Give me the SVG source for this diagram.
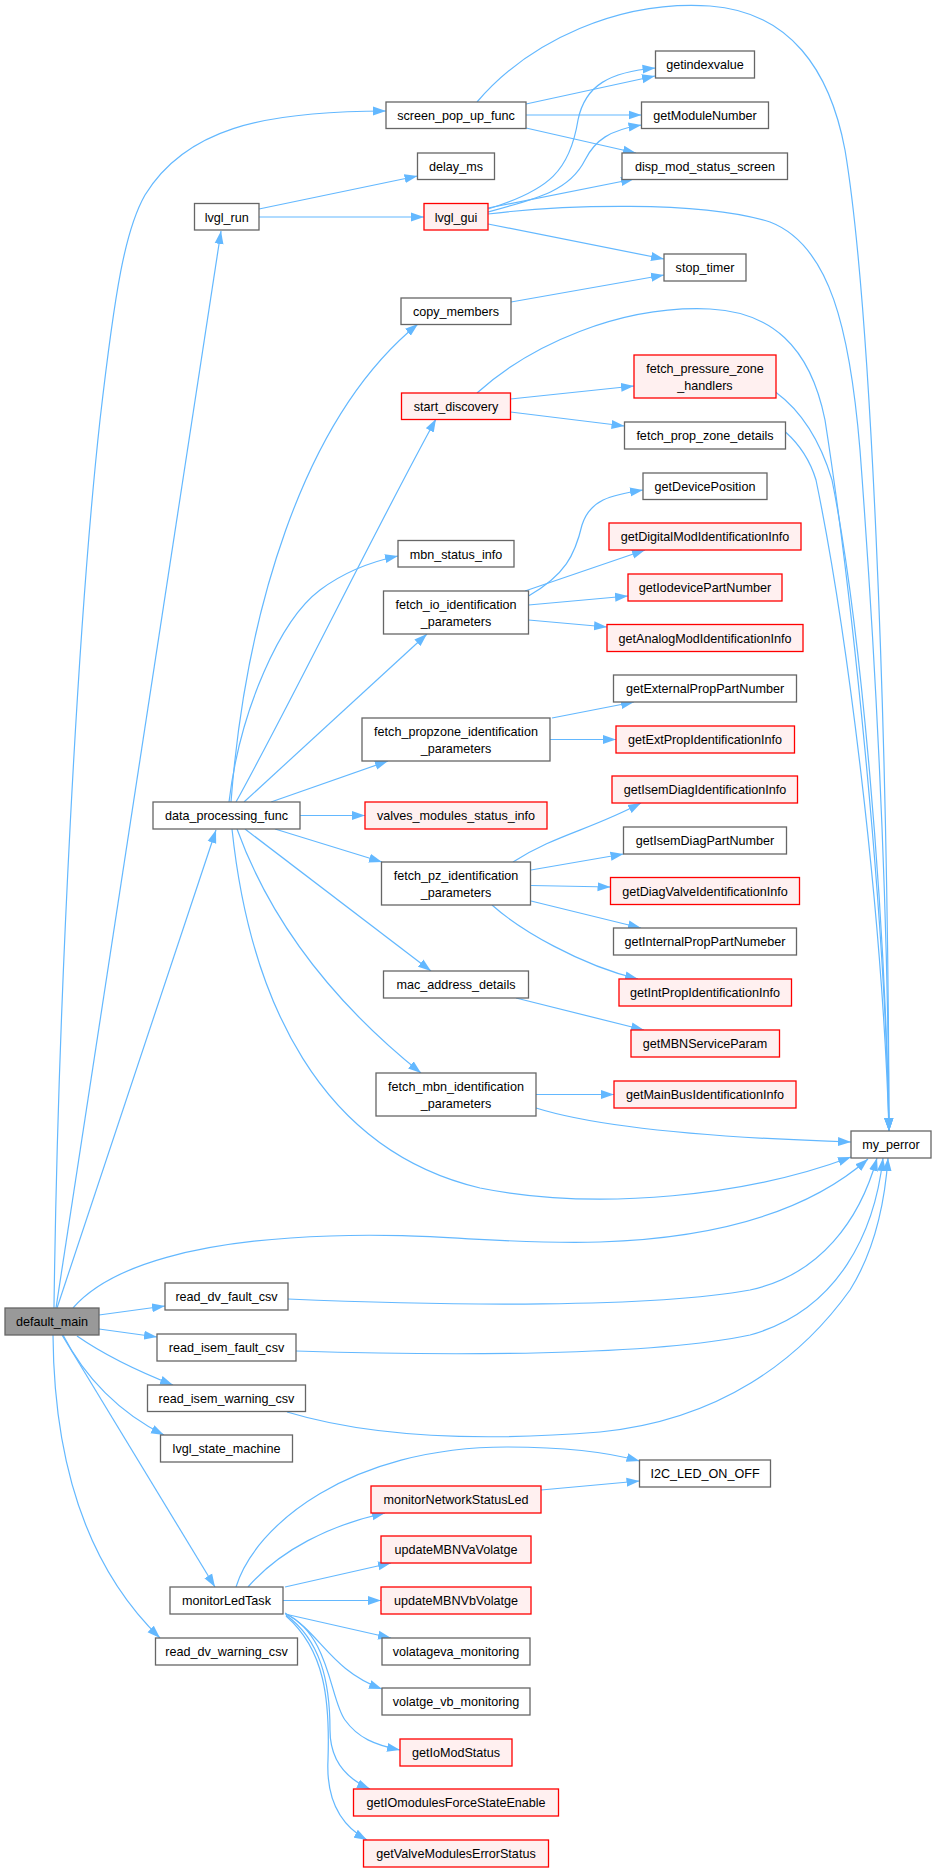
<svg xmlns="http://www.w3.org/2000/svg" width="936" height="1873" viewBox="0 0 936 1873">
<style>
.e{fill:none;stroke:#63b8ff;stroke-width:1.2;marker-end:url(#a)}
.n rect{fill:#ffffff;stroke:#666666;stroke-width:1.3}
.r rect{fill:#fff0f0;stroke:#ff0000;stroke-width:1.3}
.g rect{fill:#999999;stroke:#666666;stroke-width:1.3}
text{font-family:"Liberation Sans",Arial,sans-serif;font-size:12.6px;text-anchor:middle;fill:#000000}
</style>
<defs>
<marker id="a" markerWidth="13" markerHeight="10" refX="13" refY="5" orient="auto" markerUnits="userSpaceOnUse"><path d="M0,0.5 L13,5 L0,9.5 z" fill="#63b8ff"/></marker>
</defs>
<rect width="936" height="1873" fill="#ffffff"/>
<g id="edges">
<path class="e" d="M54,1308 C58,1000 78,620 100,420 C115,290 125,230 145,195 C185,130 260,111 386,111"/>
<path class="e" d="M56,1308 L221,231"/>
<path class="e" d="M57,1308 L216,830"/>
<path class="e" d="M73,1308 C110,1265 200,1240 330,1236 C430,1232 500,1245 600,1242 C720,1238 810,1210 868,1159"/>
<path class="e" d="M99,1315 L165,1306"/>
<path class="e" d="M99,1329 L157,1337"/>
<path class="e" d="M77,1336 C100,1352 135,1370 173,1385"/>
<path class="e" d="M63,1335 C85,1378 120,1413 164,1435"/>
<path class="e" d="M62,1335 L215,1587"/>
<path class="e" d="M53,1335 C54,1470 90,1570 160,1638"/>
<path class="e" d="M231,802 C245,620 300,420 418,324"/>
<path class="e" d="M236,802 C295,695 375,530 436,419"/>
<path class="e" d="M229,802 C240,710 280,620 320,590 C340,575 365,563 398,556"/>
<path class="e" d="M244,802 L427,634"/>
<path class="e" d="M271,802 L388,761"/>
<path class="e" d="M299,815.5 L365,815.5"/>
<path class="e" d="M275,829 L382,862"/>
<path class="e" d="M245,829 L431,971"/>
<path class="e" d="M237,829 C270,920 330,1000 421,1073"/>
<path class="e" d="M232,829 C250,1000 320,1150 480,1188 C600,1212 750,1195 851,1157"/>
<path class="e" d="M536,1108 C600,1128 720,1138 851,1142"/>
<path class="e" d="M536,1094.5 L614,1094.5"/>
<path class="e" d="M477,102 C530,40 620,0 710,6 C790,12 830,70 845,150 C870,300 888,700 889,1131"/>
<path class="e" d="M526,104 L655,76"/>
<path class="e" d="M526,115 L641.5,115"/>
<path class="e" d="M526,128 L636,153"/>
<path class="e" d="M259,209 L417.5,176"/>
<path class="e" d="M259,217 L424,217"/>
<path class="e" d="M488,209 C550,190 570,170 578,120 C585,85 610,72 655.5,68"/>
<path class="e" d="M488,212 C540,198 570,190 585,160 C595,140 610,130 641.5,125"/>
<path class="e" d="M488,208 L634,179"/>
<path class="e" d="M488,224 L664,259"/>
<path class="e" d="M488,214 C560,205 700,200 770,222 C830,245 850,330 860,450 C875,650 888,900 889,1131"/>
<path class="e" d="M511,302 L664,275"/>
<path class="e" d="M477,393 C530,345 620,305 710,309 C770,312 810,345 825,420 C850,580 885,900 889,1131"/>
<path class="e" d="M510.5,399 L634,386"/>
<path class="e" d="M510.5,412 L624.5,426"/>
<path class="e" d="M775.5,392 C800,410 820,440 832,480 C860,620 885,900 889,1131"/>
<path class="e" d="M785.5,432 C800,445 810,460 816,480 C845,620 882,900 889,1131"/>
<path class="e" d="M528.5,596 C565,575 575,555 582,525 C590,500 610,495 643,490"/>
<path class="e" d="M525,591 L645,550"/>
<path class="e" d="M528.5,605 L628,596"/>
<path class="e" d="M528.5,620 L607,627"/>
<path class="e" d="M552,718 L634,702"/>
<path class="e" d="M550,739.5 L616,739.5"/>
<path class="e" d="M513,862 C555,835 590,830 641,803"/>
<path class="e" d="M531,870 L623.5,854"/>
<path class="e" d="M531,885.5 L610.5,887"/>
<path class="e" d="M531,901 L641,928"/>
<path class="e" d="M492,905 C520,930 580,965 638,979"/>
<path class="e" d="M516,998 L644,1030"/>
<path class="e" d="M236,1587 C255,1525 350,1447 507,1447 C550,1447 600,1450 639.5,1461"/>
<path class="e" d="M248,1587 C280,1550 330,1525 385,1513"/>
<path class="e" d="M285,1587 L391,1563"/>
<path class="e" d="M282.5,1600.5 L381,1600.5"/>
<path class="e" d="M285,1614 L391,1638"/>
<path class="e" d="M285,1613 C320,1632 330,1670 382,1689"/>
<path class="e" d="M286,1614 C330,1635 330,1700 345,1720 C358,1738 375,1745 400,1750"/>
<path class="e" d="M286,1615 C320,1640 330,1680 330,1730 C330,1760 345,1778 370,1789"/>
<path class="e" d="M286,1616 C325,1650 330,1700 328,1760 C326,1800 340,1825 367,1840"/>
<path class="e" d="M541,1490 L639.5,1481"/>
<path class="e" d="M288,1299 C450,1306 650,1308 750,1290 C820,1275 860,1220 877,1158"/>
<path class="e" d="M296,1351 C450,1356 650,1356 750,1335 C840,1310 875,1230 883,1158"/>
<path class="e" d="M287,1412 C380,1440 500,1440 600,1432 C720,1420 800,1360 850,1290 C875,1250 885,1200 888,1158"/>
</g>
<g id="default_main" class="g"><rect x="5" y="1308" width="94" height="27"/><text x="52" y="1326">default_main</text></g>
<g id="screen_pop_up_func" class="n"><rect x="386" y="102" width="140" height="26.5"/><text x="456" y="120">screen_pop_up_func</text></g>
<g id="delay_ms" class="n"><rect x="417.5" y="153" width="77" height="26.5"/><text x="456" y="171">delay_ms</text></g>
<g id="lvgl_gui" class="r"><rect x="424" y="203.5" width="64" height="26.5"/><text x="456" y="221.5">lvgl_gui</text></g>
<g id="copy_members" class="n"><rect x="401" y="298" width="110" height="26.5"/><text x="456" y="316">copy_members</text></g>
<g id="start_discovery" class="r"><rect x="401.5" y="393" width="109" height="26.5"/><text x="456" y="411">start_discovery</text></g>
<g id="mbn_status_info" class="n"><rect x="398" y="540.5" width="116" height="26.5"/><text x="456" y="558.5">mbn_status_info</text></g>
<g id="fetch_io_identification_parameters" class="n"><rect x="383.5" y="591" width="145" height="43"/><text x="456" y="609">fetch_io_identification</text><text x="456" y="625.5">_parameters</text></g>
<g id="fetch_propzone_identification_parameters" class="n"><rect x="362" y="718" width="188" height="43"/><text x="456" y="736">fetch_propzone_identification</text><text x="456" y="752.5">_parameters</text></g>
<g id="valves_modules_status_info" class="r"><rect x="365" y="802" width="182" height="27"/><text x="456" y="820">valves_modules_status_info</text></g>
<g id="fetch_pz_identification_parameters" class="n"><rect x="381.5" y="862" width="149" height="43"/><text x="456" y="880">fetch_pz_identification</text><text x="456" y="896.5">_parameters</text></g>
<g id="mac_address_details" class="n"><rect x="383.5" y="971" width="145" height="27"/><text x="456" y="989">mac_address_details</text></g>
<g id="fetch_mbn_identification_parameters" class="n"><rect x="376" y="1073" width="160" height="43"/><text x="456" y="1091">fetch_mbn_identification</text><text x="456" y="1107.5">_parameters</text></g>
<g id="monitorNetworkStatusLed" class="r"><rect x="371" y="1486" width="170" height="27"/><text x="456" y="1504">monitorNetworkStatusLed</text></g>
<g id="updateMBNVaVolatge" class="r"><rect x="381" y="1536" width="150" height="27"/><text x="456" y="1554">updateMBNVaVolatge</text></g>
<g id="updateMBNVbVolatge" class="r"><rect x="381" y="1587" width="150" height="27"/><text x="456" y="1605">updateMBNVbVolatge</text></g>
<g id="volatageva_monitoring" class="n"><rect x="382" y="1638" width="148" height="27"/><text x="456" y="1656">volatageva_monitoring</text></g>
<g id="volatge_vb_monitoring" class="n"><rect x="382" y="1688" width="148" height="27"/><text x="456" y="1706">volatge_vb_monitoring</text></g>
<g id="getIoModStatus" class="r"><rect x="400" y="1739" width="112" height="27"/><text x="456" y="1757">getIoModStatus</text></g>
<g id="getIOmodulesForceStateEnable" class="r"><rect x="353.5" y="1789" width="205" height="27"/><text x="456" y="1807">getIOmodulesForceStateEnable</text></g>
<g id="getValveModulesErrorStatus" class="r"><rect x="363.5" y="1840" width="185" height="27"/><text x="456" y="1858">getValveModulesErrorStatus</text></g>
<g id="lvgl_run" class="n"><rect x="194.5" y="203.5" width="64.5" height="26.5"/><text x="226.7" y="221.5">lvgl_run</text></g>
<g id="data_processing_func" class="n"><rect x="153" y="802" width="147" height="27"/><text x="226.5" y="820">data_processing_func</text></g>
<g id="read_dv_fault_csv" class="n"><rect x="165" y="1283" width="123" height="27"/><text x="226.5" y="1301">read_dv_fault_csv</text></g>
<g id="read_isem_fault_csv" class="n"><rect x="157" y="1334" width="139" height="27"/><text x="226.5" y="1352">read_isem_fault_csv</text></g>
<g id="read_isem_warning_csv" class="n"><rect x="147.5" y="1385" width="158" height="26.5"/><text x="226.5" y="1403">read_isem_warning_csv</text></g>
<g id="lvgl_state_machine" class="n"><rect x="160.5" y="1435" width="132" height="27"/><text x="226.5" y="1453">lvgl_state_machine</text></g>
<g id="monitorLedTask" class="n"><rect x="170" y="1587" width="113" height="27"/><text x="226.5" y="1605">monitorLedTask</text></g>
<g id="read_dv_warning_csv" class="n"><rect x="155.5" y="1638" width="142" height="27"/><text x="226.5" y="1656">read_dv_warning_csv</text></g>
<g id="getindexvalue" class="n"><rect x="655.5" y="51" width="99" height="27"/><text x="705" y="69">getindexvalue</text></g>
<g id="getModuleNumber" class="n"><rect x="641.5" y="102" width="127" height="26.5"/><text x="705" y="120">getModuleNumber</text></g>
<g id="disp_mod_status_screen" class="n"><rect x="622" y="153" width="165.5" height="26.5"/><text x="705" y="171">disp_mod_status_screen</text></g>
<g id="stop_timer" class="n"><rect x="664" y="254" width="82" height="27"/><text x="705" y="272">stop_timer</text></g>
<g id="fetch_pressure_zone_handlers" class="r"><rect x="634" y="355" width="142" height="43"/><text x="705" y="373">fetch_pressure_zone</text><text x="705" y="389.5">_handlers</text></g>
<g id="fetch_prop_zone_details" class="n"><rect x="624.5" y="422" width="161" height="27"/><text x="705" y="440">fetch_prop_zone_details</text></g>
<g id="getDevicePosition" class="n"><rect x="643" y="473" width="124" height="26.5"/><text x="705" y="491">getDevicePosition</text></g>
<g id="getDigitalModIdentificationInfo" class="r"><rect x="609" y="523" width="192" height="27"/><text x="705" y="541">getDigitalModIdentificationInfo</text></g>
<g id="getIodevicePartNumber" class="r"><rect x="628" y="574" width="154" height="27"/><text x="705" y="592">getIodevicePartNumber</text></g>
<g id="getAnalogModIdentificationInfo" class="r"><rect x="607" y="624.5" width="196" height="27"/><text x="705" y="642.5">getAnalogModIdentificationInfo</text></g>
<g id="getExternalPropPartNumber" class="n"><rect x="613.5" y="675" width="183" height="27"/><text x="705" y="693">getExternalPropPartNumber</text></g>
<g id="getExtPropIdentificationInfo" class="r"><rect x="616" y="726" width="178.5" height="27"/><text x="705" y="744">getExtPropIdentificationInfo</text></g>
<g id="getIsemDiagIdentificationInfo" class="r"><rect x="612" y="776" width="185.5" height="27"/><text x="705" y="794">getIsemDiagIdentificationInfo</text></g>
<g id="getIsemDiagPartNumber" class="n"><rect x="623.5" y="827" width="163" height="27"/><text x="705" y="845">getIsemDiagPartNumber</text></g>
<g id="getDiagValveIdentificationInfo" class="r"><rect x="610.5" y="877.5" width="189" height="27"/><text x="705" y="895.5">getDiagValveIdentificationInfo</text></g>
<g id="getInternalPropPartNumeber" class="n"><rect x="613.5" y="928" width="183" height="27"/><text x="705" y="946">getInternalPropPartNumeber</text></g>
<g id="getIntPropIdentificationInfo" class="r"><rect x="619" y="979" width="172.5" height="27"/><text x="705" y="997">getIntPropIdentificationInfo</text></g>
<g id="getMBNServiceParam" class="r"><rect x="631" y="1030" width="148.5" height="27"/><text x="705" y="1048">getMBNServiceParam</text></g>
<g id="getMainBusIdentificationInfo" class="r"><rect x="614" y="1081" width="182" height="27"/><text x="705" y="1099">getMainBusIdentificationInfo</text></g>
<g id="I2C_LED_ON_OFF" class="n"><rect x="639.5" y="1460" width="131" height="27"/><text x="705" y="1478">I2C_LED_ON_OFF</text></g>
<g id="my_perror" class="n"><rect x="851" y="1131" width="80" height="27"/><text x="891" y="1149">my_perror</text></g>
</svg>
